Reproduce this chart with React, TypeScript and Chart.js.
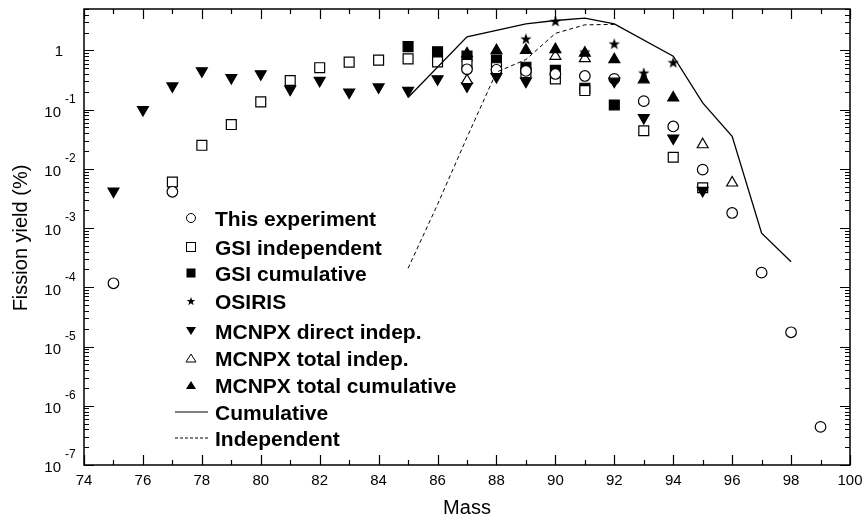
import React, { useEffect, useRef } from "react";
import { Chart, registerables } from "chart.js";

Chart.register(...registerables);

// ---------------- data ----------------
const expMass = [75, 77, 87, 88, 89, 90, 91, 92, 93, 94, 95, 96, 97, 98, 99];
const expYield = [1.17e-4, 4.1e-3, 0.48, 0.47, 0.45, 0.4, 0.37, 0.33, 0.139, 0.052, 9.7e-3, 1.8e-3, 1.77e-4, 1.74e-5, 4.4e-7];

const gsiIndMass = [77, 78, 79, 80, 81, 82, 83, 84, 85, 86, 87, 88, 89, 90, 91, 93, 94, 95];
const gsiIndYield = [6.0e-3, 0.025, 0.056, 0.135, 0.31, 0.51, 0.634, 0.686, 0.72, 0.64, 0.58, 0.51, 0.42, 0.33, 0.21, 0.044, 0.0157, 4.8e-3];

const gsiCumMass = [85, 86, 87, 88, 89, 90, 91, 92];
const gsiCumYield = [1.16, 0.95, 0.8, 0.69, 0.52, 0.46, 0.23, 0.12];

const osirisMass = [89, 90, 91, 92, 93, 94];
const osirisYield = [1.58, 3.13, 0.95, 1.3, 0.42, 0.63];

const mcnpDirMass = [75, 76, 77, 78, 79, 80, 81, 82, 83, 84, 85, 86, 87, 88, 89, 92, 93, 94, 95];
const mcnpDirYield = [4.2e-3, 0.1, 0.25, 0.45, 0.345, 0.4, 0.22, 0.31, 0.197, 0.24, 0.21, 0.33, 0.25, 0.36, 0.3, 0.3, 0.073, 0.033, 4.3e-3];

const mcnpTotIndMass = [87, 90, 91, 95, 96];
const mcnpTotIndYield = [0.31, 0.8, 0.73, 0.0257, 5.8e-3];

const mcnpTotCumMass = [87, 88, 89, 90, 91, 92, 93, 94];
const mcnpTotCumYield = [0.88, 1.0, 1.01, 1.04, 0.9, 0.7, 0.32, 0.158];

const cumMass = [85, 87, 89, 90, 91, 92, 94, 95, 96, 97, 98];
const cumYield = [0.16, 1.7, 2.8, 3.2, 3.5, 2.8, 0.8, 0.13, 0.0355, 8.2e-4, 2.7e-4];

const indMass = [85, 86, 87, 88, 89, 90, 91, 92];
const indYield = [2.1e-4, 2.5e-3, 0.034, 0.43, 0.7, 1.94, 2.7, 2.75];

const xTickLabels = [74, 76, 78, 80, 82, 84, 86, 88, 90, 92, 94, 96, 98, 100];
const yDecades = [-7, -6, -5, -4, -3, -2, -1, 0];

const legendLabels = [
  "This experiment",
  "GSI independent",
  "GSI cumulative",
  "OSIRIS",
  "MCNPX direct indep.",
  "MCNPX total indep.",
  "MCNPX total cumulative",
  "Cumulative",
  "Independent",
];
const legendKinds = ["circle", "square", "fsquare", "star", "dtri", "otri", "ftri", "solid", "dashed"];

const X_MIN = 74;
const X_MAX = 100;
const Y_MIN = 1e-7;
const Y_MAX = 5;

const FONT = "'Liberation Sans', Arial, Helvetica, sans-serif";

function starPath(ctx: CanvasRenderingContext2D, cx: number, cy: number, R: number) {
  const r = R * 0.4;
  ctx.beginPath();
  for (let i = 0; i < 10; i++) {
    const rad = i % 2 === 0 ? R : r;
    const a = -Math.PI / 2 + (i * Math.PI) / 5;
    const px = cx + rad * Math.cos(a);
    const py = cy + rad * Math.sin(a);
    if (i === 0) ctx.moveTo(px, py);
    else ctx.lineTo(px, py);
  }
  ctx.closePath();
}

function makeStar(R: number) {
  const size = Math.ceil(R * 2 + 2);
  const c = document.createElement("canvas");
  c.width = size;
  c.height = size;
  const ctx = c.getContext("2d")!;
  starPath(ctx, size / 2, size / 2 + R * 0.1, R);
  ctx.fillStyle = "#000";
  ctx.fill();
  return c;
}

function pts(xs: number[], ys: number[]) {
  return xs.map((m, i) => ({ x: m, y: ys[i] }));
}

function drawLegendSymbol(ctx: CanvasRenderingContext2D, kind: string, x: number, y: number) {
  ctx.save();
  ctx.strokeStyle = "#000";
  ctx.fillStyle = "#000";
  ctx.lineWidth = 1;
  if (kind === "circle") {
    ctx.beginPath();
    ctx.arc(x, y, 4.5, 0, Math.PI * 2);
    ctx.stroke();
  } else if (kind === "square" || kind === "fsquare") {
    if (kind === "fsquare") ctx.fillRect(x - 4.5, y - 4.5, 9, 9);
    else ctx.strokeRect(x - 4.5, y - 4.5, 9, 9);
  } else if (kind === "star") {
    starPath(ctx, x, y + 0.5, 4.5);
    ctx.fill();
  } else if (kind === "dtri" || kind === "otri" || kind === "ftri") {
    const w = 5;
    const h = 8;
    ctx.beginPath();
    if (kind === "dtri") {
      ctx.moveTo(x - w, y - h / 2);
      ctx.lineTo(x + w, y - h / 2);
      ctx.lineTo(x, y + h / 2);
    } else {
      ctx.moveTo(x - w, y + h / 2);
      ctx.lineTo(x + w, y + h / 2);
      ctx.lineTo(x, y - h / 2);
    }
    ctx.closePath();
    if (kind === "otri") ctx.stroke();
    else ctx.fill();
  } else if (kind === "solid" || kind === "dashed") {
    ctx.beginPath();
    if (kind === "dashed") ctx.setLineDash([3, 2]);
    ctx.moveTo(175, y);
    ctx.lineTo(208, y);
    ctx.stroke();
  }
  ctx.restore();
}

const overlayPlugin = {
  id: "overlay",
  afterDatasetsDraw(chart: any) {
    const ctx: CanvasRenderingContext2D = chart.ctx;
    const a = chart.chartArea;
    const xs = chart.scales.x;
    const ys = chart.scales.y;
    ctx.save();
    ctx.strokeStyle = "#000";
    ctx.fillStyle = "#000";

    // ticks (inward, all four sides)
    ctx.lineWidth = 1.2;
    ctx.beginPath();
    for (let m = X_MIN; m <= X_MAX; m++) {
      const px = Math.round(xs.getPixelForValue(m)) + 0.5;
      const len = m % 2 === 0 ? 10 : 5;
      ctx.moveTo(px, a.bottom);
      ctx.lineTo(px, a.bottom - len);
      ctx.moveTo(px, a.top);
      ctx.lineTo(px, a.top + len);
    }
    for (const d of yDecades) {
      for (let k = 1; k <= 9; k++) {
        const v = k * Math.pow(10, d);
        if (v > Y_MAX || v < Y_MIN) continue;
        const py = Math.round(ys.getPixelForValue(v)) + 0.5;
        const len = k === 1 ? 10 : 5;
        ctx.moveTo(a.left, py);
        ctx.lineTo(a.left + len, py);
        ctx.moveTo(a.right, py);
        ctx.lineTo(a.right - len, py);
      }
    }
    ctx.stroke();

    // border
    ctx.lineWidth = 1.5;
    ctx.strokeRect(a.left, a.top, a.right - a.left, a.bottom - a.top);

    // x tick labels
    ctx.font = `15px ${FONT}`;
    ctx.textAlign = "center";
    ctx.textBaseline = "alphabetic";
    for (const m of xTickLabels) {
      ctx.fillText(String(m), xs.getPixelForValue(m), 484.5);
    }

    // y tick labels
    for (const d of yDecades) {
      const py = ys.getPixelForValue(Math.pow(10, d));
      if (d === 0) {
        ctx.font = `15px ${FONT}`;
        ctx.textAlign = "right";
        ctx.fillText("1", 63, py + 5.4);
      } else {
        ctx.font = `15px ${FONT}`;
        ctx.textAlign = "right";
        ctx.fillText("10", 61, py + 7.4);
        ctx.font = `12px ${FONT}`;
        ctx.textAlign = "left";
        ctx.fillText(String(d), 65, py - 6.7);
      }
    }

    // axis titles
    ctx.font = `20px ${FONT}`;
    ctx.textAlign = "center";
    ctx.fillText("Mass", (a.left + a.right) / 2, 514);
    ctx.save();
    ctx.translate(27, 238);
    ctx.rotate(-Math.PI / 2);
    ctx.fillText("Fission yield (%)", 0, 0);
    ctx.restore();

    // legend
    const rows = [218, 247, 273, 301, 331, 358, 385, 412, 438];
    ctx.font = `bold 21px ${FONT}`;
    ctx.textAlign = "left";
    legendLabels.forEach((lab, i) => {
      drawLegendSymbol(ctx, legendKinds[i], 191, rows[i]);
      ctx.fillStyle = "#000";
      ctx.fillText(lab, 215, rows[i] + 7.5);
    });

    ctx.restore();
  },
};

export default function App() {
  const ref = useRef<HTMLCanvasElement | null>(null);

  useEffect(() => {
    if (!ref.current) return;
    const star = makeStar(6);
    const marker = (
      label: string,
      xsArr: number[],
      ysArr: number[],
      style: any,
      filled: boolean,
      radius: number,
      order: number,
      rotation = 0
    ) => ({
      label,
      data: pts(xsArr, ysArr),
      showLine: false,
      pointStyle: style,
      pointRadius: radius,
      pointHoverRadius: radius,
      pointRotation: rotation,
      pointBackgroundColor: filled ? "#000" : "#fff",
      pointBorderColor: "#000",
      pointBorderWidth: 1.2,
      backgroundColor: filled ? "#000" : "#fff",
      borderColor: "#000",
      order,
    });

    const chart = new Chart(ref.current, {
      type: "scatter",
      data: {
        datasets: [
          {
            label: "Cumulative",
            data: pts(cumMass, cumYield),
            showLine: true,
            borderColor: "#000",
            borderWidth: 1.3,
            pointRadius: 0,
            tension: 0,
            order: 0,
          } as any,
          {
            label: "Independent",
            data: pts(indMass, indYield),
            showLine: true,
            borderColor: "#000",
            borderWidth: 1,
            borderDash: [4, 3],
            pointRadius: 0,
            tension: 0,
            order: 1,
          } as any,
          marker("OSIRIS", osirisMass, osirisYield, star, true, 6, 2),
          marker("MCNPX total cumulative", mcnpTotCumMass, mcnpTotCumYield, "triangle", true, 6.3, 3),
          marker("MCNPX total indep.", mcnpTotIndMass, mcnpTotIndYield, "triangle", false, 6.3, 4),
          marker("MCNPX direct indep.", mcnpDirMass, mcnpDirYield, "triangle", true, 6.3, 5, 180),
          marker("This experiment", expMass, expYield, "circle", false, 5.3, 6),
          marker("GSI independent", gsiIndMass, gsiIndYield, "rect", false, 7, 7),
          marker("GSI cumulative", gsiCumMass, gsiCumYield, "rect", true, 7, 8),
        ],
      },
      options: {
        responsive: false,
        animation: false,
        layout: { padding: { left: 84, right: 15, top: 9, bottom: 54 } },
        plugins: {
          legend: { display: false },
          tooltip: { enabled: false },
        },
        scales: {
          x: { type: "linear", min: X_MIN, max: X_MAX, display: false },
          y: { type: "logarithmic", min: Y_MIN, max: Y_MAX, display: false },
        },
      },
      plugins: [overlayPlugin],
    } as any);

    return () => chart.destroy();
  }, []);

  return (
    <canvas
      ref={ref}
      width={865}
      height={519}
      style={{ position: "absolute", left: 0, top: 0, width: 865, height: 519, background: "#fff" }}
    />
  );
}
